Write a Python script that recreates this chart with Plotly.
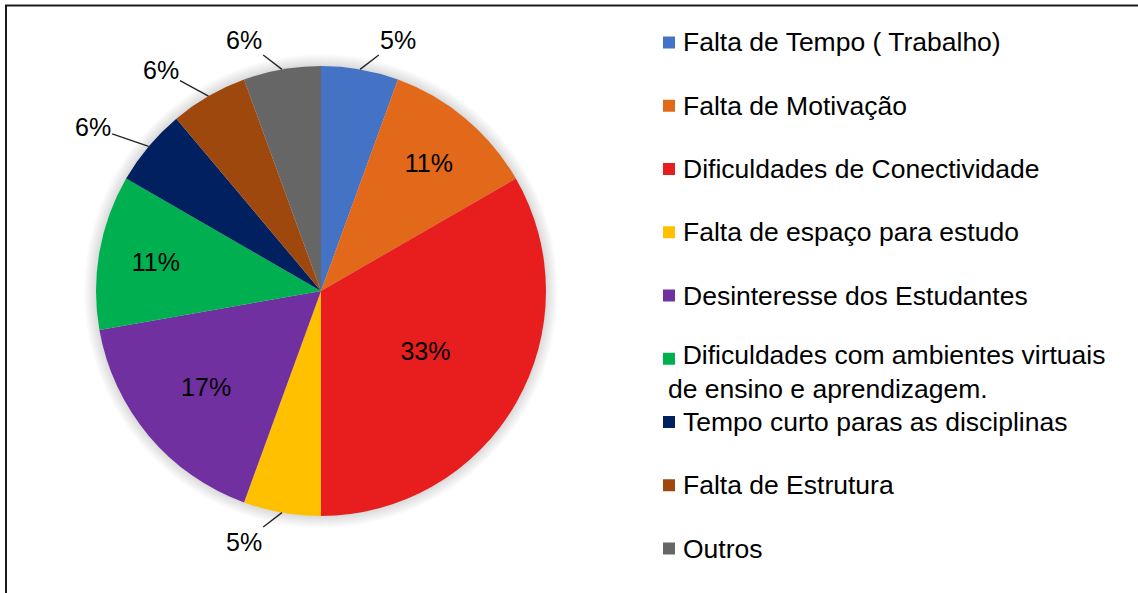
import math
import textwrap
import plotly.graph_objects as go

# ---- data ----
categories = [
    "Falta de Tempo ( Trabalho)",
    "Falta de Motivação",
    "Dificuldades de Conectividade",
    "Falta de espaço para estudo",
    "Desinteresse dos Estudantes",
    "Dificuldades com ambientes virtuais de ensino e aprendizagem.",
    "Tempo curto paras as disciplinas",
    "Falta de Estrutura",
    "Outros",
]
values = [1, 2, 6, 1, 3, 2, 1, 1, 1]
pct_labels = ["5%", "11%", "33%", "5%", "17%", "11%", "6%", "6%", "6%"]

# ---- styling ----
colors = ["#4472C4", "#E2681A", "#E81E1E", "#FFC000", "#7030A0",
          "#00B050", "#002060", "#9E480E", "#666666"]
FONT = "Liberation Sans, Arial, sans-serif"
W, H = 1138, 593
CX, CY, R = 321, 291, 225          # pie centre / radius in pixels

total = sum(values)
is_outside = [v / total < 0.08 for v in values]
positions = ["none" if o else "inside" for o in is_outside]
inner_text = ["" if o else t for o, t in zip(is_outside, pct_labels)]

shapes = []
annotations = []

# soft shadow around the pie
for k in range(1, 13):
    r = R + k
    shapes.append(dict(type="circle", xref="paper", yref="paper", layer="below",
                       x0=(CX - r) / W, x1=(CX + r) / W,
                       y0=1 - (CY + r) / H, y1=1 - (CY - r) / H,
                       fillcolor="rgba(0,0,0,0.013)", line=dict(width=0)))

fig = go.Figure()
fig.add_trace(go.Pie(
    labels=categories,
    values=values,
    text=inner_text,
    textinfo="text",
    textposition=positions,
    insidetextorientation="horizontal",
    sort=False,
    direction="clockwise",
    rotation=0,
    marker=dict(colors=colors, line=dict(width=0)),
    textfont=dict(family=FONT, size=25, color="black"),
    insidetextfont=dict(family=FONT, size=25, color="black"),
    domain=dict(x=[(CX - R) / W, (CX + R) / W],
                y=[1 - (CY + R) / H, 1 - (CY - R) / H]),
    showlegend=False,
    hoverinfo="label+percent",
))

# outside labels with leader lines for the small slices
cum = 0
for v, lab, out in zip(values, pct_labels, is_outside):
    th = 2 * math.pi * (cum + v / 2) / total
    cum += v
    if not out:
        continue
    px = CX + R * math.sin(th)
    py = CY - R * math.cos(th)
    side = 1 if math.sin(th) >= 0 else -1
    tx = px + 30 * math.sin(th) + 33 * side
    ty = py - 30 * math.cos(th)
    annotations.append(dict(
        xref="paper", yref="paper", x=px / W, y=1 - py / H,
        ax=tx - px, ay=ty - py, text=lab, showarrow=True,
        arrowhead=0, arrowwidth=1.4, arrowcolor="#262626", standoff=0,
        font=dict(family=FONT, size=25, color="black"),
    ))

# ---- custom legend (right side) ----
row0, step = 42.5, 63.25
for i, (cat, col) in enumerate(zip(categories, colors)):
    yc = row0 + step * i
    shapes.append(dict(type="rect", xref="paper", yref="paper",
                       x0=663 / W, x1=675 / W,
                       y0=1 - (yc + 6) / H, y1=1 - (yc - 6) / H,
                       fillcolor=col, line=dict(width=0)))
    lines = textwrap.wrap(cat, width=35)
    if len(lines) == 1:
        annotations.append(dict(
            xref="paper", yref="paper", x=681 / W, y=1 - yc / H,
            xanchor="left", yanchor="middle", text=lines[0], showarrow=False,
            font=dict(family=FONT, size=26.5, color="black"),
        ))
    else:
        txt = "\u00a0\u00a0" + lines[0] + "<br>" + "<br>".join(lines[1:])
        annotations.append(dict(
            xref="paper", yref="paper", x=666 / W, y=1 - (yc + 13) / H,
            xanchor="left", yanchor="middle", align="left", text=txt,
            showarrow=False,
            font=dict(family=FONT, size=26.5, color="black"),
        ))

# outer frame (visible on left and top edges)
shapes.append(dict(type="rect", xref="paper", yref="paper",
                   x0=6 / W, x1=1.02, y0=-0.02, y1=1 - 5.5 / H,
                   line=dict(color="#1a1a1a", width=2), fillcolor="rgba(0,0,0,0)"))

fig.update_layout(
    width=W, height=H,
    margin=dict(l=0, r=0, t=0, b=0),
    paper_bgcolor="white",
    plot_bgcolor="white",
    showlegend=False,
    shapes=shapes,
    annotations=annotations,
    font=dict(family=FONT, color="black"),
)

fig.write_html(
    "out.html",
    config={"displayModeBar": False},
    post_script="document.body.style.margin='0';document.body.style.overflow='hidden';",
)
